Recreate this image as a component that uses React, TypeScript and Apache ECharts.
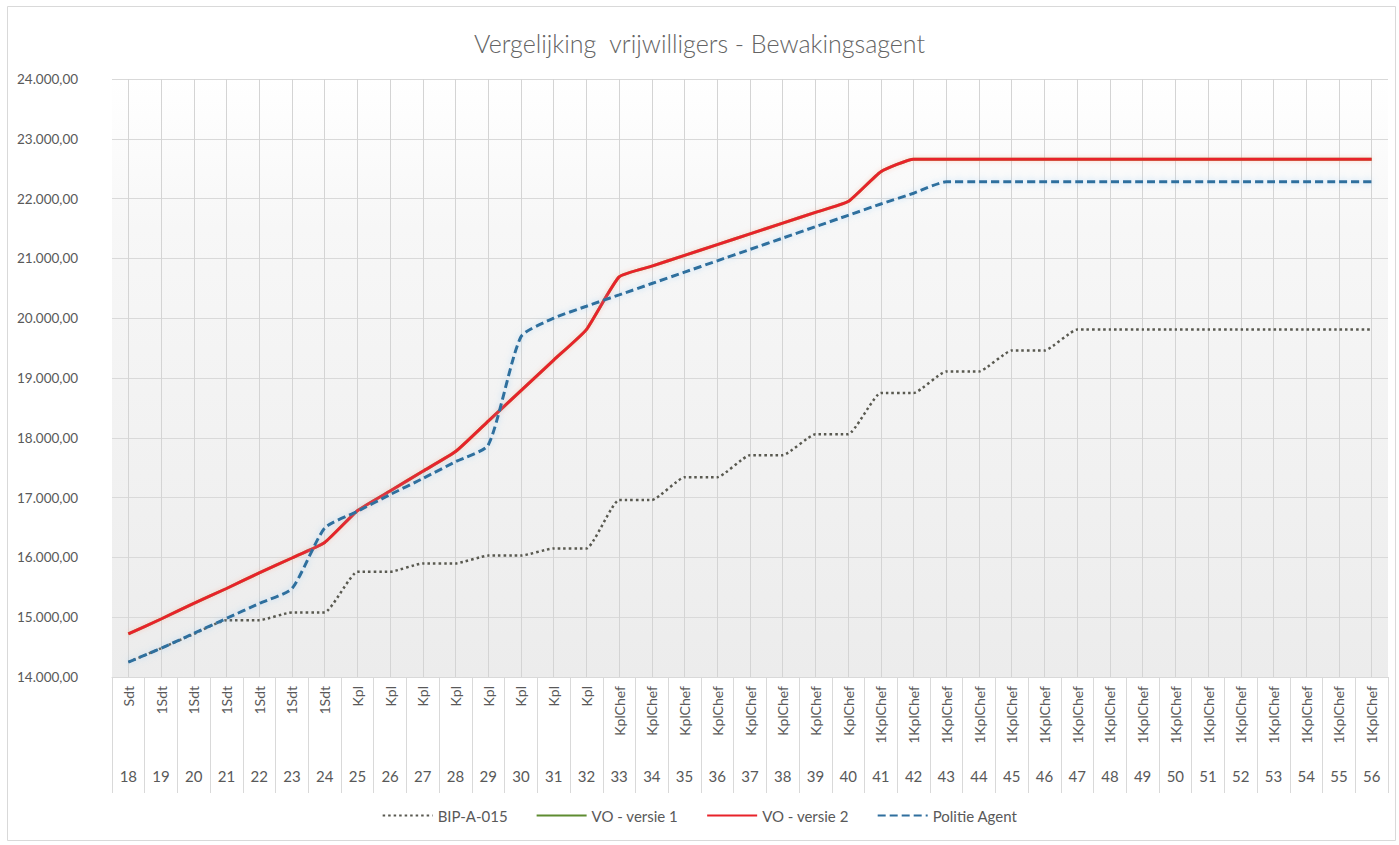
import React, { useEffect, useRef } from "react";
import * as echarts from "echarts";

const titleText = "Vergelijking  vrijwilligers - Bewakingsagent";

const ranks = [
  "Sdt",
  "1Sdt", "1Sdt", "1Sdt", "1Sdt", "1Sdt", "1Sdt",
  "Kpl", "Kpl", "Kpl", "Kpl", "Kpl", "Kpl", "Kpl", "Kpl",
  "KplChef", "KplChef", "KplChef", "KplChef", "KplChef", "KplChef", "KplChef", "KplChef",
  "1KplChef", "1KplChef", "1KplChef", "1KplChef", "1KplChef", "1KplChef", "1KplChef", "1KplChef",
  "1KplChef", "1KplChef", "1KplChef", "1KplChef", "1KplChef", "1KplChef", "1KplChef", "1KplChef",
];

const ages = [
  "18", "19", "20", "21", "22", "23", "24", "25", "26", "27", "28", "29", "30",
  "31", "32", "33", "34", "35", "36", "37", "38", "39", "40", "41", "42", "43",
  "44", "45", "46", "47", "48", "49", "50", "51", "52", "53", "54", "55", "56",
];

const bipA015 = [
  14250, 14480, 14720, 14950, 14950, 15080, 15080, 15760, 15760, 15900,
  15900, 16030, 16030, 16150, 16150, 16960, 16960, 17340, 17340, 17710,
  17710, 18060, 18060, 18750, 18750, 19110, 19110, 19460, 19460, 19810,
  19810, 19810, 19810, 19810, 19810, 19810, 19810, 19810, 19810,
];

const voVersie1 = [
  14720, 14970, 15230, 15480, 15740, 15990, 16250, 16780, 17110, 17440,
  17770, 18280, 18790, 19300, 19810, 20690, 20870, 21050, 21230, 21410,
  21590, 21770, 21950, 22450, 22660, 22660, 22660, 22660, 22660, 22660,
  22660, 22660, 22660, 22660, 22660, 22660, 22660, 22660, 22660,
];

const voVersie2 = [
  14720, 14970, 15230, 15480, 15740, 15990, 16250, 16780, 17110, 17440,
  17770, 18280, 18790, 19300, 19810, 20690, 20870, 21050, 21230, 21410,
  21590, 21770, 21950, 22450, 22660, 22660, 22660, 22660, 22660, 22660,
  22660, 22660, 22660, 22660, 22660, 22660, 22660, 22660, 22660,
];

const politieAgent = [
  14250, 14480, 14730, 14980, 15230, 15480, 16490, 16770, 17050, 17320,
  17600, 17880, 19690, 20000, 20200, 20390, 20580, 20770, 20960, 21150,
  21340, 21530, 21720, 21910, 22090, 22280, 22280, 22280, 22280, 22280,
  22280, 22280, 22280, 22280, 22280, 22280, 22280, 22280, 22280,
];

const FONT = "Lato, 'Liberation Sans', sans-serif";
const TXT = "#595959";

function fmt(v: number): string {
  const int = Math.round(v).toString().replace(/\B(?=(\d{3})+(?!\d))/g, ".");
  return int + ",00";
}

export default function App() {
  const ref = useRef<HTMLDivElement>(null);
  useEffect(() => {
    if (!ref.current) return;
    const chart = echarts.init(ref.current, undefined, { renderer: "svg" });
    const option: any = {
      animation: false,
      backgroundColor: "#ffffff",
      textStyle: { fontFamily: FONT },
      title: {
        text: titleText,
        left: "center",
        top: 25,
        textStyle: { fontFamily: FONT, fontSize: 25, fontWeight: 300, color: "#646464" },
      },
      graphic: [
        {
          type: "rect",
          shape: { x: 7.5, y: 6.5, width: 1388, height: 834 },
          style: { fill: "none", stroke: "#d9d9d9", lineWidth: 1 },
          silent: true,
        },
      ],
      legend: {
        bottom: 17,
        left: "center",
        itemWidth: 50,
        itemHeight: 12,
        itemGap: 28,
        itemStyle: { opacity: 0 },
        textStyle: { fontFamily: FONT, fontSize: 15, color: TXT },
        data: ["BIP-A-015", "VO - versie 1", "VO - versie 2", "Politie Agent"],
      },
      grid: {
        left: 112,
        right: 11,
        top: 79,
        bottom: 168,
        show: true,
        borderWidth: 0,
        backgroundColor: {
          type: "linear",
          x: 0, y: 0, x2: 0, y2: 1,
          colorStops: [
            { offset: 0, color: "#ffffff" },
            { offset: 0.25, color: "#f7f7f7" },
            { offset: 1, color: "#ececec" },
          ],
        },
      },
      xAxis: [
        {
          type: "category",
          data: ranks,
          position: "bottom",
          axisLine: { show: true, lineStyle: { color: "#d9d9d9" } },
          axisTick: { show: true, interval: 0, length: 116, lineStyle: { color: "#d9d9d9" } },
          axisLabel: {
            interval: 0,
            rotate: 90,
            margin: 9,
            fontFamily: FONT,
            fontSize: 14,
            color: TXT,
          },
          splitLine: { show: false },
        },
        {
          type: "category",
          data: ages,
          position: "bottom",
          axisLine: { show: false },
          axisTick: { show: false },
          axisLabel: {
            interval: 0,
            margin: 91,
            fontFamily: FONT,
            fontSize: 15,
            color: TXT,
          },
          splitLine: { show: false },
        },
      ],
      yAxis: {
        type: "value",
        min: 14000,
        max: 24000,
        interval: 1000,
        axisLine: { show: false },
        axisTick: { show: false },
        axisLabel: {
          formatter: (v: number) => fmt(v),
          align: "left",
          margin: 95,
          fontFamily: FONT,
          fontSize: 13.5,
          color: TXT,
        },
        splitLine: { show: true, lineStyle: { color: "#d9d9d9", width: 1 } },
      },
      series: [
        {
          name: "BIP-A-015",
          type: "line",
          data: bipA015,
          symbol: "none",
          smooth: 0.15,
          z: 2,
          color: "#595950",
          lineStyle: { color: "#595950", width: 2.5, type: [2.5, 3], cap: "butt" },
          markLine: {
            silent: true,
            symbol: ["none", "none"],
            label: { show: false },
            lineStyle: { color: "#d4d4d4", width: 1, type: "solid" },
            data: ages.map((_, i) => ({ xAxis: i })),
            z: 1,
          },
        },
        {
          name: "VO - versie 1",
          type: "line",
          data: voVersie1,
          symbol: "none",
          smooth: 0.15,
          z: 3,
          color: "#5e8c31",
          lineStyle: { color: "#5e8c31", width: 3 },
        },
        {
          name: "VO - versie 2",
          type: "line",
          data: voVersie2,
          symbol: "none",
          smooth: 0.15,
          z: 4,
          color: "#e8232a",
          lineStyle: {
            color: "#e8232a",
            width: 3,
            shadowBlur: 5,
            shadowColor: "rgba(255,170,150,0.55)",
          },
        },
        {
          name: "Politie Agent",
          type: "line",
          data: politieAgent,
          symbol: "none",
          smooth: 0.2,
          z: 5,
          color: "#2f6f9e",
          lineStyle: {
            color: "#2f6f9e",
            width: 3,
            type: [8, 4],
            shadowBlur: 6,
            shadowColor: "rgba(140,200,245,0.6)",
          },
        },
      ],
    };
    chart.setOption(option);
    return () => chart.dispose();
  }, []);
  return (
    <div
      ref={ref}
      style={{ position: "absolute", left: 0, top: 0, width: 1399, height: 845 }}
    />
  );
}
